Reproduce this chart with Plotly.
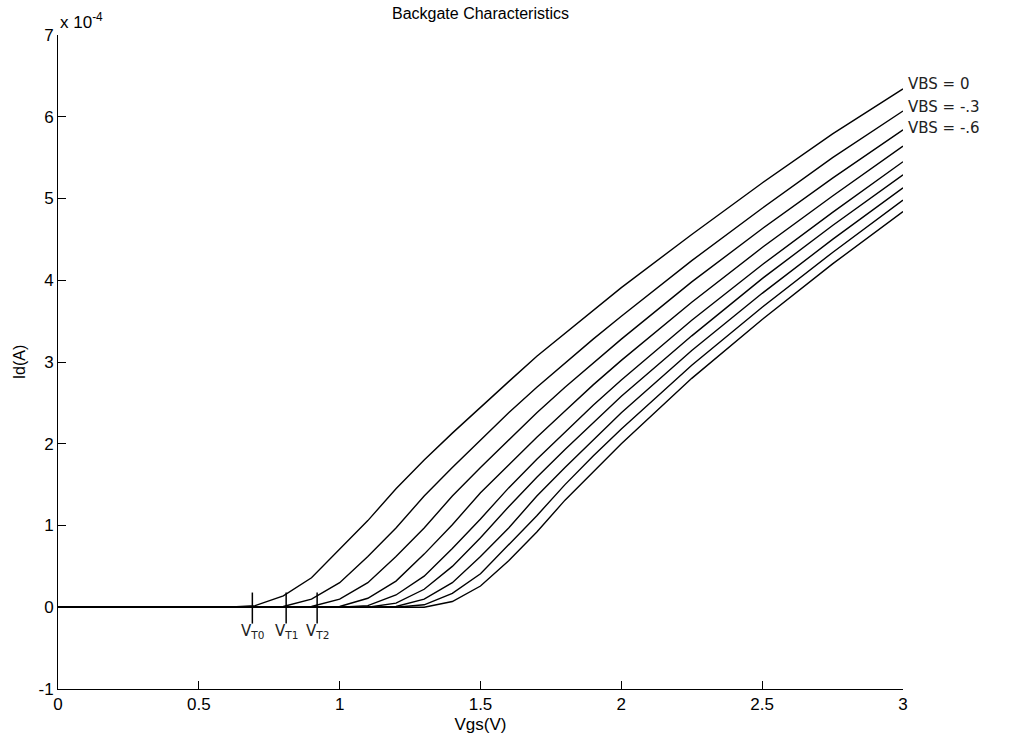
import plotly.graph_objects as go

# Gate voltage grid (V)
vgs = [0, 0.5, 0.6, 0.7, 0.8, 0.9, 1.0, 1.1, 1.2, 1.3, 1.4, 1.5, 1.6, 1.7, 1.8, 1.9, 2.0, 2.25, 2.5, 2.75, 3.0]

# Drain current (x 1e-4 A) for each back-gate bias
id_vbs_0_0 = [0, 0, 0, 0.02, 0.14, 0.36, 0.71, 1.06, 1.45, 1.80, 2.13, 2.45, 2.76, 3.07, 3.35, 3.63, 3.91, 4.56, 5.19, 5.79, 6.34]
id_vbs_0_3 = [0, 0, 0, 0, 0.01, 0.10, 0.30, 0.62, 0.97, 1.36, 1.71, 2.05, 2.38, 2.69, 2.99, 3.28, 3.56, 4.24, 4.88, 5.50, 6.07]
id_vbs_0_6 = [0, 0, 0, 0, 0, 0.01, 0.10, 0.30, 0.62, 0.97, 1.36, 1.71, 2.05, 2.38, 2.69, 2.99, 3.28, 3.98, 4.63, 5.25, 5.84]
id_vbs_0_9 = [0, 0, 0, 0, 0, 0, 0.01, 0.11, 0.32, 0.65, 1.01, 1.40, 1.74, 2.08, 2.40, 2.72, 3.02, 3.73, 4.40, 5.03, 5.64]
id_vbs_1_2 = [0, 0, 0, 0, 0, 0, 0, 0.02, 0.15, 0.38, 0.72, 1.08, 1.46, 1.81, 2.14, 2.47, 2.78, 3.51, 4.19, 4.83, 5.45]
id_vbs_1_5 = [0, 0, 0, 0, 0, 0, 0, 0, 0.05, 0.22, 0.50, 0.85, 1.23, 1.59, 1.93, 2.26, 2.58, 3.32, 4.02, 4.67, 5.29]
id_vbs_1_8 = [0, 0, 0, 0, 0, 0, 0, 0, 0.01, 0.10, 0.30, 0.62, 0.97, 1.36, 1.71, 2.05, 2.38, 3.14, 3.84, 4.50, 5.13]
id_vbs_2_1 = [0, 0, 0, 0, 0, 0, 0, 0, 0, 0.03, 0.17, 0.41, 0.76, 1.12, 1.50, 1.85, 2.18, 2.96, 3.67, 4.34, 4.98]
id_vbs_2_4 = [0, 0, 0, 0, 0, 0, 0, 0, 0, 0, 0.07, 0.26, 0.57, 0.92, 1.31, 1.66, 2.00, 2.80, 3.52, 4.20, 4.84]

curves = [id_vbs_0_0, id_vbs_0_3, id_vbs_0_6, id_vbs_0_9, id_vbs_1_2,
          id_vbs_1_5, id_vbs_1_8, id_vbs_2_1, id_vbs_2_4]

x_ticks = [0, 0.5, 1, 1.5, 2, 2.5, 3]
x_tick_text = ["0", "0.5", "1", "1.5", "2", "2.5", "3"]
y_ticks = [-1, 0, 1, 2, 3, 4, 5, 6, 7]
y_tick_text = ["-1", "0", "1", "2", "3", "4", "5", "6", "7"]

# Hand-written notes
vt_marks = [0.69, 0.81, 0.92]
vt_labels = ["V<sub>T0</sub>", "V<sub>T1</sub>", "V<sub>T2</sub>"]
curve_notes = ["VBS = 0", "VBS = -.3", "VBS = -.6", "- 2.4"]
curve_note_y = [6.40, 6.12, 5.86, 4.85]
curve_note_x = [3.0, 3.0, 3.0, 3.05]

fig = go.Figure()
for c in curves:
    fig.add_trace(go.Scatter(x=vgs, y=c, mode="lines",
                             line=dict(color="black", width=1.4),
                             showlegend=False, hoverinfo="skip"))

font = "Liberation Sans, Arial, Helvetica, sans-serif"
hand = "DejaVu Sans, sans-serif"

annotations = []
for xv, lab in zip(vt_marks, vt_labels):
    annotations.append(dict(x=xv, y=-0.15, xref="x", yref="y", text=lab,
                            showarrow=False, xanchor="center", yanchor="top",
                            font=dict(family=hand, size=15, color="#222")))
for txt, yv, xv in zip(curve_notes, curve_note_y, curve_note_x):
    annotations.append(dict(x=xv, y=yv, xref="x", yref="y", text=txt,
                            showarrow=False, xanchor="left", yanchor="middle",
                            xshift=3,
                            font=dict(family=hand, size=15, color="#222")))
annotations.append(dict(x=0, y=1, xref="paper", yref="paper",
                        text="x 10<sup>-4</sup>", showarrow=False,
                        xanchor="left", yanchor="bottom", yshift=1,
                        font=dict(family=font, size=17, color="black")))

shapes = []
for xv in vt_marks:
    shapes.append(dict(type="line", xref="x", yref="y", x0=xv, x1=xv,
                       y0=-0.2, y1=0.18, line=dict(color="black", width=1.5)))

fig.update_layout(
    width=1021, height=751,
    margin=dict(l=58, r=118, t=35, b=62),
    paper_bgcolor="white", plot_bgcolor="white",
    title=dict(text="Backgate Characteristics", x=0.4706, xanchor="center",
               y=0.982, yanchor="middle",
               font=dict(family=font, size=16, color="black")),
    font=dict(family=font, size=17, color="black"),
    xaxis=dict(range=[0, 3], tickvals=x_ticks, ticktext=x_tick_text,
               showline=True, linecolor="black", linewidth=1,
               ticks="inside", ticklen=8, tickcolor="black",
               showgrid=False, zeroline=False,
               tickfont=dict(family=font, size=17),
               title=dict(text="Vgs(V)", standoff=4,
                          font=dict(family=font, size=17))),
    yaxis=dict(range=[-1, 7], tickvals=y_ticks, ticktext=y_tick_text,
               showline=True, linecolor="black", linewidth=1,
               ticks="inside", ticklen=8, tickcolor="black",
               showgrid=False, zeroline=False,
               tickfont=dict(family=font, size=17),
               title=dict(text="Id(A)", standoff=8,
                          font=dict(family=font, size=16))),
    annotations=annotations,
    shapes=shapes,
)

fig.write_html("out.html")
